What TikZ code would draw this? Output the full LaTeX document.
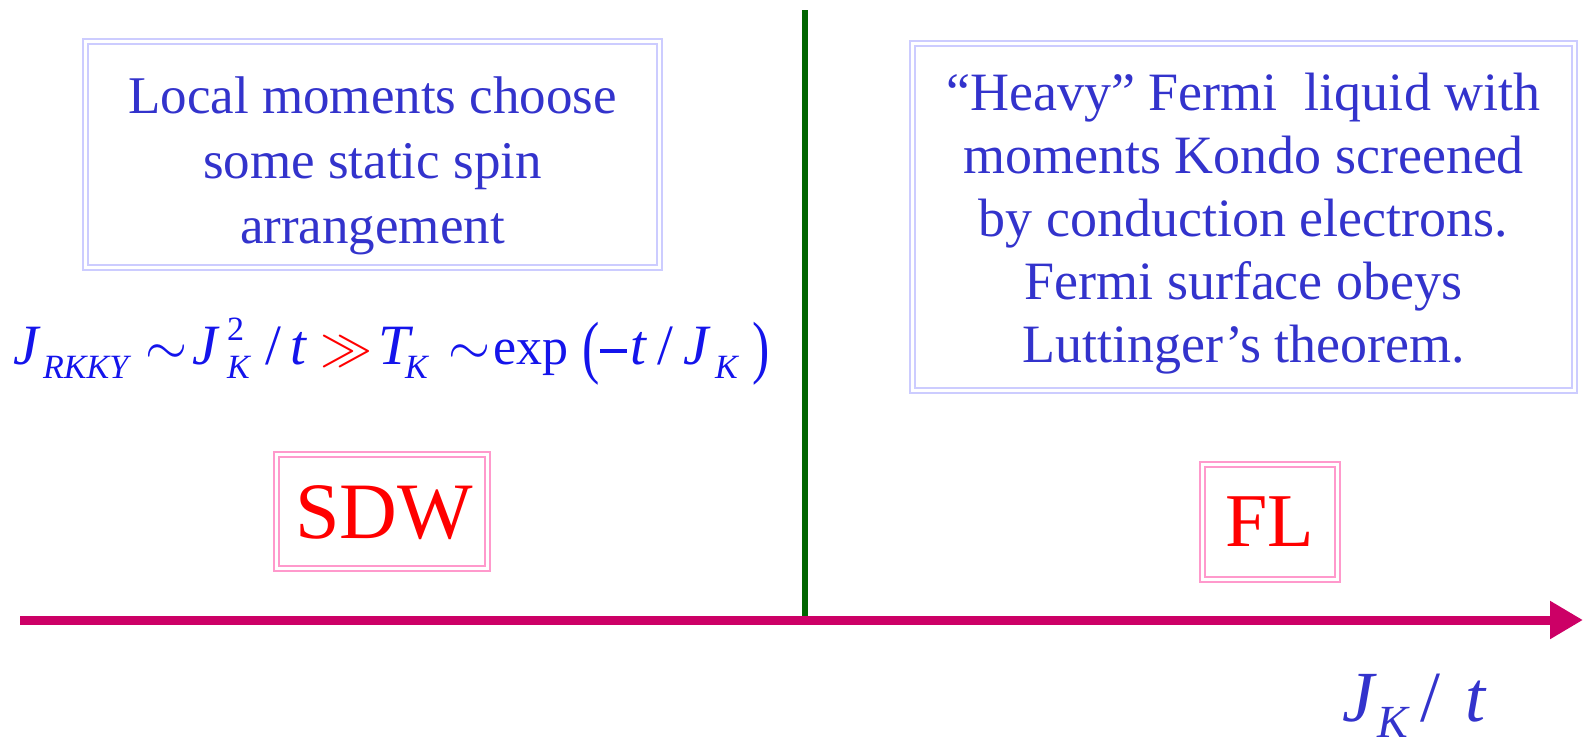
\RequirePackage{fix-cm}
\documentclass[tikz,border=0pt]{standalone}
\usepackage{fontspec}
\usepackage{graphicx}
\setmainfont{Liberation Serif}
\usetikzlibrary{arrows.meta}
\definecolor{boxblue}{RGB}{204,204,255}
\definecolor{boxpink}{RGB}{255,153,204}
\definecolor{txtblue}{RGB}{51,51,204}
\definecolor{fblue}{RGB}{20,20,235}
\definecolor{axisred}{RGB}{204,0,102}
\definecolor{phgreen}{RGB}{0,102,0}
% fixed-width piece of a formula
\newcommand{\pc}[2]{\makebox[#1pt][l]{#2}}
\newcommand{\fsub}[2][14pt]{\raisebox{-#1}{\fontsize{34}{34}\selectfont\itshape #2}}
\newcommand{\fsup}[1]{\raisebox{24pt}{\fontsize{34}{34}\selectfont\upshape #1}}
\newcommand{\bigpar}[1]{\raisebox{-6pt}{\fontsize{52}{52}\selectfont\upshape\scalebox{1}[1.34]{#1}}}
\newcommand{\rel}[2][48]{{\fontsize{#1}{#1}\selectfont$#2$}}
\tikzset{
  bluebox/.style={draw=boxblue, line width=2pt, double=white, double distance=3pt, inner sep=0pt},
  pinkbox/.style={draw=boxpink, line width=2pt, double=white, double distance=3pt, inner sep=0pt},
  boxtext/.style={text=txtblue, align=center, font=\fontsize{53}{65}\selectfont},
  phasetext/.style={text=red, font=\fontsize{80}{80}\selectfont},
}
\begin{document}
\begin{tikzpicture}[x=1pt,y=-1pt]
\useasboundingbox (0,0) rectangle (1583,748);
% boxes
\node[bluebox, minimum width=574pt, minimum height=226pt] (lbox) at (372.5,154.5) {};
\node[boxtext] (ltext) at (372.5,166) {Local moments choose\\some static spin\\arrangement};
\node[bluebox, minimum width=662pt, minimum height=347pt] (rbox) at (1243.5,217) {};
\node[boxtext, font=\fontsize{54}{63}\selectfont] (rtext) at (1243.5,224) {“Heavy” Fermi\ \ liquid with\\moments Kondo screened\\by conduction electrons.\\Fermi surface obeys\\Luttinger’s theorem.};
\node[pinkbox, minimum width=211pt, minimum height=114pt] (sdwbox) at (382,511.5) {};
\node[phasetext] (sdw) at (384,513) {SDW};
\node[pinkbox, minimum width=135pt, minimum height=115pt] (flbox) at (1270,522) {};
\node[phasetext, font=\fontsize{76}{76}\selectfont] (fl) at (1270,522) {FL};
% formula
\node[text=fblue, anchor=base west, font=\fontsize{57}{57}\selectfont, inner sep=0pt] (formula) at (13,364)
 {\itshape
  \pc{30}{J}\pc{102}{\fsub{RKKY}}\pc{47}{\rel[54]{\sim}}%
  \pc{35}{J}\pc{38}{\rlap{\fsup{2}}\fsub{K}}\pc{25}{\upshape /}\pc{30}{t}%
  \pc{58}{\color{red}\rel[52]{\gg}}\pc{27}{T}\pc{43}{\fsub{K}}\pc{45}{\rel[54]{\sim}}%
  \pc{89}{\upshape\fontsize{52}{52}\selectfont exp}\pc{18}{\bigpar{(}}%
  \pc{30}{\rule[11pt]{27pt}{4pt}}\pc{27}{t}\pc{26}{\upshape /}%
  \pc{32}{J}\pc{37}{\fsub{K}}\bigpar{)}};
% axis
\coordinate (astart) at (20,620);
\coordinate (aend) at (1583,620);
\coordinate (gtop) at (805,10);
\coordinate (gbot) at (805,616);
\draw[phgreen, line width=6pt] (gtop) -- (gbot);
\draw[axisred, line width=9pt, -{Triangle[length=33pt,width=36pt]}] (astart) -- (aend);
\node[text=txtblue, anchor=base west, inner sep=0pt, font=\fontsize{72}{72}\selectfont] (axlabel) at (1342,721)
 {\itshape\pc{35}{J}\pc{43}{\raisebox{-16pt}{\fontsize{46}{46}\selectfont K}}\pc{45}{\upshape /}t};
\end{tikzpicture}
\end{document}
